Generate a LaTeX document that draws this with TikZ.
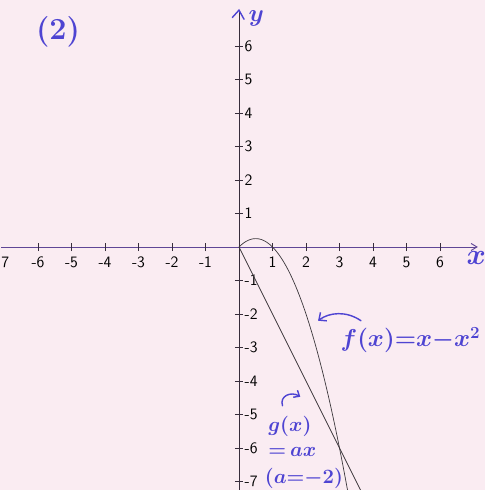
\documentclass[tikz,border=0pt]{standalone}
\usepackage{amsmath,amssymb}
\usepackage{xcolor}
\usepackage{tikz}
\usetikzlibrary{arrows.meta,positioning,calc}
\definecolor{paper}{RGB}{250,236,242}
\definecolor{penblue}{RGB}{78,68,210}
\definecolor{axisx}{RGB}{95,70,150}
\definecolor{axisy}{RGB}{55,45,60}
\definecolor{curvegray}{RGB}{60,55,60}

\begin{document}
\begin{tikzpicture}[
  pen/.style={text=penblue, inner sep=0pt},
  penarrow/.style={penblue, line width=1.2pt, line cap=round},
  ticklabel/.style={font=\sffamily\fontsize{13.5}{15}\selectfont, inner sep=0pt},
  graphline/.style={curvegray, line width=0.6pt}
]
\useasboundingbox (-7.134,-7.254) rectangle (7.343,7.373);
\fill[paper] (-7.134,-7.254) rectangle (7.343,7.373);

% axes
\coordinate (xstart) at (-7.1,0);
\coordinate (xend) at (7.13,0);
\coordinate (ystart) at (0,-7.3);
\coordinate (yend) at (0,7.07);
\draw[axisx, line width=0.8pt, -{Straight Barb[length=5pt,width=6pt]}] (xstart) -- (xend);
\draw[axisy, line width=0.8pt] (ystart) -- (yend);
\draw[penblue, line width=1.2pt, line cap=round] (-0.2,6.85) -- (yend) -- (0.15,6.8);

% ticks and numbers
\foreach \i in {-6,...,-1,1,2,...,6} {
  \draw[axisy, line width=0.6pt] (\i,-0.12) -- (\i,0.12);
  \node[ticklabel] (xl\i) at (\i,-0.45) {\i};
}
\node[ticklabel] (xlcut) at (-6.98,-0.45) {7};
\foreach \i in {-7,...,-1,1,2,...,6} {
  \draw[axisy, line width=0.6pt] (-0.12,\i) -- (0.12,\i);
  \node[ticklabel, anchor=west] (yl\i) at (0.16,\i) {\i};
}

% axis names and number of the exercise
\node[pen, font=\boldmath\fontsize{22}{24}\selectfont] (ylabel) at (0.52,6.82) {$y$};
\node[pen, font=\boldmath\fontsize{24}{26}\selectfont] (xlabel) at (7.08,-0.33) {$x$};
\node[pen, font=\bfseries\fontsize{26}{30}\selectfont] (part) at (-5.4,6.42) {(2)};

% graphs
\draw[graphline] plot[domain=0:3.27, samples=80] (\x, {\x - \x*\x});
\draw[graphline] (0,0) -- (3.65,-7.3);

% labels with pointers
\node[pen, font=\boldmath\fontsize{21}{24}\selectfont] (flabel) at (5.12,-2.78) {$f(x){=}x{-}x^2$};
\coordinate (fpoint) at (2.36,-2.2);
\draw[penarrow, -{Straight Barb[length=5pt,width=9pt]}] (3.64,-2.2) .. controls (3.2,-1.9) and (2.7,-1.95) .. (fpoint);

\node[pen, font=\boldmath\fontsize{19}{22}\selectfont, anchor=west] (glabel) at (0.87,-5.37) {$g(x)$};
\node[pen, font=\boldmath\fontsize{19}{22}\selectfont, anchor=west] (galabel) at (0.87,-6.13) {${=}\,ax$};
\node[pen, font=\boldmath\fontsize{18}{20}\selectfont] (aval) at (1.94,-6.92) {$(a{=}{-}2)$};
\coordinate (gpoint) at (1.83,-4.47);
\draw[penarrow, -{Straight Barb[length=4pt,width=7pt]}] (1.3,-4.74) .. controls (1.2,-4.45) and (1.55,-4.3) .. (gpoint);
\end{tikzpicture}
\end{document}
